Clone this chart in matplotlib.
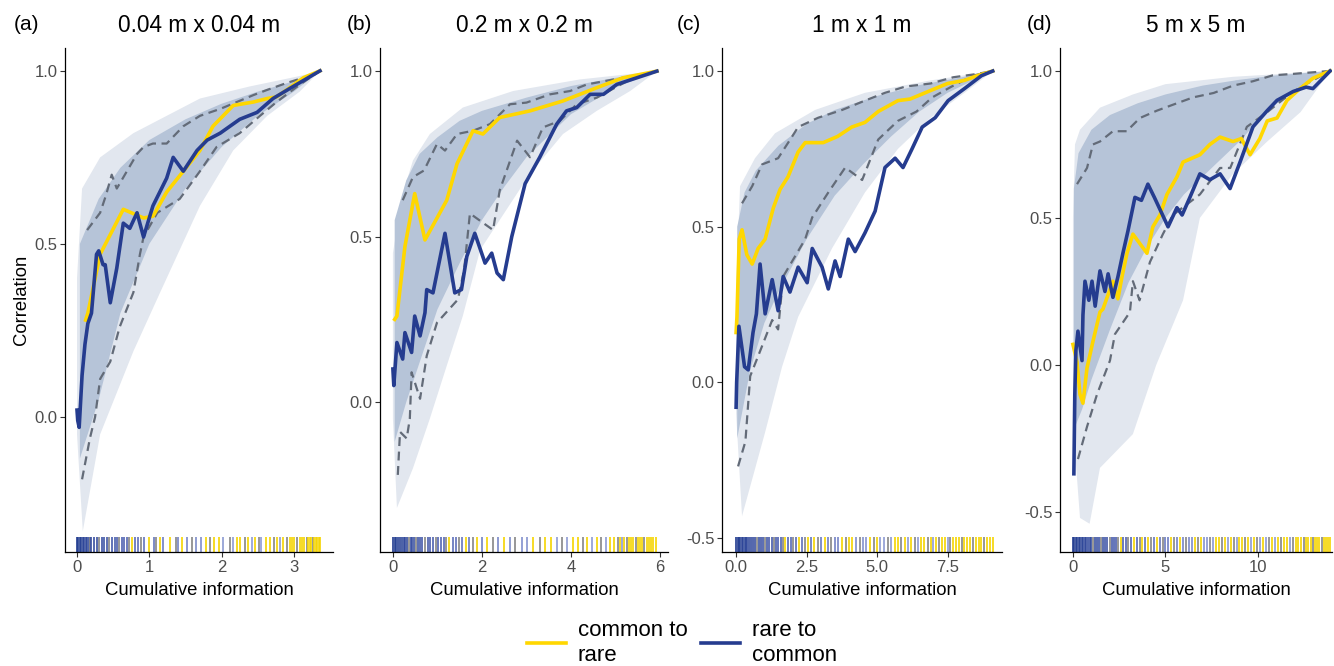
import numpy as np
import matplotlib
matplotlib.use('Agg')
import matplotlib.pyplot as plt
from matplotlib.colors import LinearSegmentedColormap
from matplotlib.lines import Line2D

plt.rcParams['font.family'] = ['Liberation Sans', 'DejaVu Sans']

# --- values ---

titles = ['0.04 m x 0.04 m', '0.2 m x 0.2 m', '1 m x 1 m', '5 m x 5 m']
tags = ['(a)', '(b)', '(c)', '(d)']

# (a)
a_common_x = [0.12, 0.15, 0.32, 0.64, 0.92, 1.05, 1.24, 1.47, 1.70, 1.88, 2.16, 2.44, 2.63, 2.76, 2.90, 3.13, 3.36]
a_common_y = [0.28, 0.30, 0.47, 0.60, 0.575, 0.58, 0.65, 0.71, 0.77, 0.84, 0.90, 0.91, 0.92, 0.925, 0.945, 0.98, 1.0]
a_rare_x = [0.0, 0.01, 0.03, 0.07, 0.11, 0.15, 0.20, 0.27, 0.30, 0.36, 0.39, 0.46, 0.55, 0.64, 0.73, 0.83, 0.92,
            1.05, 1.24, 1.33, 1.47, 1.66, 1.80, 1.98, 2.25, 2.49, 2.71, 2.95, 3.36]
a_rare_y = [0.02, -0.01, -0.03, 0.12, 0.21, 0.27, 0.30, 0.47, 0.48, 0.44, 0.44, 0.33, 0.43, 0.56, 0.545, 0.59, 0.52,
            0.61, 0.69, 0.75, 0.71, 0.77, 0.80, 0.82, 0.86, 0.88, 0.92, 0.95, 1.0]
a_qhi_x = [0.14, 0.32, 0.40, 0.48, 0.55, 0.83, 0.92, 1.05, 1.24, 1.47, 1.70, 1.98, 2.21, 2.44, 2.63, 2.90, 3.13, 3.36]
a_qhi_y = [0.54, 0.59, 0.64, 0.70, 0.66, 0.76, 0.78, 0.79, 0.79, 0.84, 0.87, 0.89, 0.91, 0.93, 0.945, 0.965, 0.98, 1.0]
a_qlo_x = [0.07, 0.18, 0.25, 0.32, 0.46, 0.59, 0.78, 0.87, 0.92, 1.11, 1.42, 1.70, 1.93, 2.25, 2.53, 2.76, 3.08, 3.36]
a_qlo_y = [-0.18, -0.06, 0.0, 0.11, 0.16, 0.26, 0.36, 0.47, 0.52, 0.59, 0.63, 0.71, 0.78, 0.82, 0.87, 0.91, 0.96, 1.0]
a_core_hi_x = [0.04, 0.3, 0.6, 1.0, 1.5, 2.0, 2.5, 3.0, 3.36]
a_core_hi_y = [0.50, 0.63, 0.72, 0.80, 0.86, 0.905, 0.94, 0.97, 1.0]
a_core_lo_x = [0.04, 0.3, 0.6, 1.0, 1.5, 2.0, 2.5, 3.0, 3.36]
a_core_lo_y = [-0.12, 0.05, 0.30, 0.50, 0.66, 0.78, 0.87, 0.94, 1.0]
a_env_hi_x = [0.0, 0.07, 0.32, 0.78, 1.24, 1.70, 2.39, 3.08, 3.36]
a_env_hi_y = [0.40, 0.66, 0.75, 0.82, 0.87, 0.92, 0.955, 0.985, 1.0]
a_env_lo_x = [0.0, 0.08, 0.32, 0.78, 1.15, 1.70, 2.16, 2.63, 3.08, 3.36]
a_env_lo_y = [-0.05, -0.33, -0.05, 0.19, 0.36, 0.61, 0.77, 0.87, 0.94, 1.0]
a_rug = [0.0, 0.02, 0.04, 0.06, 0.08, 0.10, 0.12, 0.14, 0.16, 0.18,
         0.20, 0.235, 0.27, 0.31, 0.34, 0.37, 0.41, 0.44, 0.48, 0.52, 0.55, 0.585, 0.62, 0.65, 0.69, 0.72,
         0.76, 0.80, 0.85, 0.88, 0.92, 0.99, 1.06, 1.09, 1.15, 1.19, 1.29, 1.37, 1.40, 1.45, 1.52, 1.59,
         1.65, 1.71, 1.79, 1.84, 1.90, 1.96, 2.02, 2.11, 2.16, 2.21, 2.26, 2.32, 2.37, 2.42, 2.46, 2.51,
         2.55, 2.62, 2.67, 2.72, 2.76, 2.81, 2.85, 2.90, 2.94, 2.97, 3.00, 3.04, 3.08, 3.11, 3.14, 3.18,
         3.20, 3.22, 3.24, 3.26, 3.28, 3.30, 3.32, 3.34, 3.36]

# (b)
b_common_x = [0.04, 0.09, 0.27, 0.49, 0.72, 1.21, 1.44, 1.80, 2.02, 2.40, 3.08, 3.82, 4.58, 5.17, 5.93]
b_common_y = [0.25, 0.26, 0.47, 0.63, 0.49, 0.61, 0.72, 0.82, 0.81, 0.86, 0.88, 0.91, 0.95, 0.98, 1.0]
b_rare_x = [0.0, 0.02, 0.09, 0.22, 0.27, 0.42, 0.49, 0.61, 0.72, 0.76, 0.90, 1.17, 1.39, 1.54, 1.66, 1.84,
            2.07, 2.22, 2.34, 2.48, 2.67, 2.97, 3.30, 3.68, 3.90, 4.13, 4.43, 4.73, 5.03, 5.48, 5.93]
b_rare_y = [0.10, 0.05, 0.18, 0.13, 0.21, 0.15, 0.26, 0.20, 0.27, 0.34, 0.33, 0.51, 0.33, 0.34, 0.44, 0.51,
            0.42, 0.45, 0.39, 0.37, 0.50, 0.66, 0.74, 0.84, 0.88, 0.89, 0.93, 0.93, 0.96, 0.98, 1.0]
b_qhi_x = [0.22, 0.45, 0.70, 0.99, 1.17, 1.44, 1.80, 2.18, 2.63, 3.0, 3.53, 3.98, 4.36, 4.96, 5.56, 5.93]
b_qhi_y = [0.61, 0.68, 0.70, 0.78, 0.76, 0.81, 0.82, 0.84, 0.90, 0.905, 0.93, 0.94, 0.96, 0.975, 0.99, 1.0]
b_qlo_x = [0.11, 0.16, 0.31, 0.38, 0.42, 0.61, 0.76, 0.99, 1.46, 1.60, 1.73, 2.25, 2.40, 2.79, 3.08, 3.37,
           3.75, 4.13, 4.58, 5.33, 5.93]
b_qlo_y = [-0.22, -0.09, -0.11, -0.05, 0.09, 0.01, 0.14, 0.24, 0.31, 0.40, 0.57, 0.52, 0.64, 0.79, 0.74, 0.83,
           0.85, 0.90, 0.92, 0.975, 1.0]
b_core_hi_x = [0.04, 0.3, 0.6, 1.0, 1.5, 2.0, 3.0, 4.0, 5.0, 5.93]
b_core_hi_y = [0.55, 0.67, 0.75, 0.80, 0.85, 0.88, 0.92, 0.955, 0.98, 1.0]
b_core_lo_x = [0.04, 0.3, 0.6, 1.0, 1.5, 2.0, 2.5, 3.0, 4.0, 5.0, 5.93]
b_core_lo_y = [-0.12, 0.0, 0.12, 0.28, 0.42, 0.55, 0.65, 0.74, 0.87, 0.95, 1.0]
b_env_hi_x = [0.0, 0.2, 0.45, 0.83, 1.57, 2.7, 4.2, 5.93]
b_env_hi_y = [0.45, 0.62, 0.73, 0.81, 0.89, 0.94, 0.975, 1.0]
b_env_lo_x = [0.0, 0.09, 0.45, 0.83, 1.21, 1.57, 1.96, 3.08, 3.82, 4.58, 5.33, 5.93]
b_env_lo_y = [-0.05, -0.32, -0.2, -0.05, 0.11, 0.26, 0.46, 0.69, 0.81, 0.88, 0.94, 1.0]
b_rug = [0.0, 0.04, 0.08, 0.12, 0.16, 0.20, 0.24, 0.28, 0.32, 0.36, 0.40, 0.44, 0.48, 0.52, 0.56,
         0.60, 0.66, 0.72, 0.78, 0.84, 0.90, 0.96, 1.02, 1.08, 1.14, 1.20, 1.27, 1.34, 1.41, 1.48, 1.56,
         1.64, 1.72, 1.80, 1.90, 2.00, 2.12, 2.24, 2.36, 2.50, 2.62, 2.75, 2.90, 3.02, 3.15, 3.30, 3.42,
         3.55, 3.68, 3.80, 3.92, 4.04, 4.15, 4.26, 4.37, 4.48, 4.58, 4.68, 4.78, 4.88, 4.97,
         5.05, 5.10, 5.15, 5.20, 5.25, 5.30, 5.35, 5.40, 5.45, 5.50, 5.55, 5.60, 5.65, 5.70, 5.75, 5.80,
         5.85, 5.90]

# (c)
c_common_x = [0.0, 0.03, 0.11, 0.21, 0.38, 0.57, 0.78, 1.03, 1.32, 1.56, 1.84, 2.2, 2.45, 3.09, 3.6, 4.1,
              4.57, 5.04, 5.74, 6.17, 6.7, 7.5, 8.1, 8.55, 9.1]
c_common_y = [0.16, 0.21, 0.46, 0.49, 0.41, 0.38, 0.43, 0.46, 0.56, 0.62, 0.66, 0.74, 0.77, 0.77, 0.79, 0.82,
              0.835, 0.87, 0.905, 0.91, 0.93, 0.96, 0.97, 0.985, 1.0]
c_rare_x = [0.0, 0.02, 0.1, 0.3, 0.43, 0.6, 0.72, 0.85, 1.03, 1.28, 1.49, 1.67, 1.91, 2.2, 2.52, 2.7, 3.05,
            3.27, 3.51, 3.69, 3.98, 4.22, 4.57, 4.93, 5.28, 5.64, 5.92, 6.24, 6.6, 7.06, 7.52, 8.12, 8.7, 9.1]
c_rare_y = [-0.08, 0.0, 0.18, 0.05, 0.04, 0.16, 0.22, 0.38, 0.22, 0.33, 0.23, 0.34, 0.29, 0.37, 0.32, 0.43,
            0.37, 0.30, 0.39, 0.34, 0.46, 0.42, 0.48, 0.55, 0.69, 0.72, 0.69, 0.75, 0.82, 0.85, 0.905, 0.945,
            0.985, 1.0]
c_qhi_x = [0.21, 0.57, 0.92, 1.49, 1.99, 2.2, 2.91, 3.76, 4.57, 5.28, 6.0, 6.9, 7.7, 8.5, 9.1]
c_qhi_y = [0.575, 0.63, 0.70, 0.72, 0.79, 0.82, 0.85, 0.875, 0.905, 0.93, 0.95, 0.96, 0.98, 0.99, 1.0]
c_qlo_x = [0.07, 0.33, 0.5, 0.85, 1.28, 1.49, 1.67, 2.45, 2.7, 3.27, 3.87, 4.47, 5.04, 5.74, 6.4, 6.95,
           7.64, 8.4, 9.1]
c_qlo_y = [-0.27, -0.19, 0.02, 0.10, 0.20, 0.17, 0.34, 0.46, 0.53, 0.61, 0.69, 0.65, 0.78, 0.84, 0.87,
           0.915, 0.95, 0.985, 1.0]
c_core_hi_x = [0.04, 0.3, 0.7, 1.5, 2.5, 3.5, 5.0, 6.5, 8.0, 9.1]
c_core_hi_y = [0.50, 0.61, 0.68, 0.76, 0.83, 0.875, 0.92, 0.955, 0.98, 1.0]
c_core_lo_x = [0.04, 0.5, 1.0, 1.5, 2.5, 3.5, 4.5, 5.5, 6.5, 7.5, 9.1]
c_core_lo_y = [-0.18, 0.04, 0.19, 0.29, 0.46, 0.60, 0.70, 0.79, 0.87, 0.93, 1.0]
c_env_hi_x = [0.0, 0.14, 0.67, 1.38, 2.8, 4.57, 6.9, 9.1]
c_env_hi_y = [0.3, 0.63, 0.72, 0.80, 0.875, 0.93, 0.97, 1.0]
c_env_lo_x = [0.0, 0.21, 1.03, 1.63, 2.2, 2.8, 3.4, 4.57, 5.74, 6.9, 8.1, 9.1]
c_env_lo_y = [-0.1, -0.43, -0.16, 0.05, 0.21, 0.32, 0.43, 0.61, 0.75, 0.85, 0.93, 1.0]
c_rug = [0.00, 0.05, 0.10, 0.15, 0.20, 0.25, 0.30, 0.35, 0.40, 0.46, 0.53, 0.60, 0.66, 0.73, 0.80, 0.87,
         0.95, 1.02, 1.10, 1.18, 1.26, 1.33, 1.41, 1.50, 1.58, 1.66, 1.75, 1.84, 1.93, 2.02, 2.12, 2.22,
         2.33, 2.44, 2.55, 2.66, 2.78, 2.90, 3.02, 3.14, 3.26, 3.38, 3.50, 3.62, 3.75, 3.88, 4.00, 4.12,
         4.25, 4.38, 4.50, 4.62, 4.75, 4.88, 5.00, 5.12, 5.25, 5.38, 5.50, 5.62, 5.74, 5.86, 5.98, 6.10,
         6.22, 6.34, 6.45, 6.56, 6.68, 6.80, 6.90, 7.00, 7.10, 7.20, 7.30, 7.40, 7.50, 7.60, 7.70, 7.80,
         7.90, 8.00, 8.10, 8.20, 8.30, 8.40, 8.50, 8.60, 8.70, 8.80, 8.90, 9.00, 9.10]

# (d)
d_common_x = [0.0, 0.22, 0.38, 0.54, 0.76, 1.08, 1.46, 1.62, 2.16, 2.43, 2.65, 2.92, 3.24, 4.0, 4.32, 4.7,
              5.08, 5.62, 5.95, 6.86, 7.4, 7.95, 8.65, 9.1, 9.57, 10.1, 10.5, 11.03, 11.57, 12.27, 12.97, 13.9]
d_common_y = [0.07, 0.01, -0.10, -0.13, -0.01, 0.08, 0.18, 0.19, 0.285, 0.225, 0.30, 0.38, 0.445, 0.38, 0.47,
              0.51, 0.58, 0.64, 0.69, 0.715, 0.75, 0.775, 0.76, 0.77, 0.715, 0.77, 0.83, 0.84, 0.90, 0.94,
              0.975, 1.0]
d_rare_x = [0.05, 0.10, 0.16, 0.27, 0.49, 0.54, 0.65, 0.86, 1.03, 1.2, 1.46, 1.73, 1.9, 2.16, 2.43, 2.7,
            2.97, 3.35, 3.7, 4.05, 4.4, 5.14, 5.62, 5.9, 6.32, 6.86, 7.4, 7.95, 8.49, 9.03, 9.73, 10.5,
            11.03, 11.9, 12.6, 12.97, 13.9]
d_rare_y = [-0.37, -0.10, 0.05, 0.115, 0.015, 0.17, 0.285, 0.22, 0.285, 0.20, 0.32, 0.25, 0.31, 0.23, 0.30,
            0.38, 0.455, 0.57, 0.56, 0.615, 0.57, 0.47, 0.535, 0.51, 0.57, 0.65, 0.63, 0.65, 0.60, 0.69,
            0.81, 0.865, 0.90, 0.93, 0.945, 0.94, 1.0]
d_qhi_x = [0.22, 0.76, 1.08, 1.46, 2.16, 2.9, 3.62, 4.54, 5.4, 6.49, 7.6, 8.65, 9.73, 10.8, 11.9, 13.9]
d_qhi_y = [0.615, 0.67, 0.75, 0.76, 0.795, 0.795, 0.84, 0.865, 0.885, 0.91, 0.925, 0.95, 0.965, 0.985,
           0.99, 1.0]
d_qlo_x = [0.27, 0.76, 1.3, 2.0, 2.27, 2.65, 3.08, 3.24, 3.6, 4.16, 4.86, 5.4, 6.86, 7.95, 8.5, 9.4, 10.5,
           11.4, 12.3, 13.9]
d_qlo_y = [-0.32, -0.21, -0.10, 0.015, 0.105, 0.14, 0.18, 0.285, 0.22, 0.35, 0.445, 0.51, 0.58, 0.67, 0.67,
           0.81, 0.86, 0.905, 0.945, 1.0]
d_core_hi_x = [0.05, 0.3, 1.0, 2.0, 3.5, 5.0, 7.0, 9.0, 11.0, 13.9]
d_core_hi_y = [0.60, 0.72, 0.80, 0.85, 0.89, 0.92, 0.95, 0.97, 0.985, 1.0]
d_core_lo_x = [0.05, 0.5, 1.0, 2.0, 3.0, 4.0, 5.0, 6.0, 7.0, 8.0, 9.0, 10.0, 11.0, 12.0, 13.0, 13.9]
d_core_lo_y = [-0.22, -0.15, -0.05, 0.12, 0.28, 0.40, 0.50, 0.58, 0.64, 0.70, 0.76, 0.83, 0.89, 0.93, 0.97, 1.0]
d_env_hi_x = [0.0, 0.11, 0.38, 1.46, 3.24, 5.0, 8.65, 13.9]
d_env_hi_y = [0.5, 0.75, 0.80, 0.875, 0.92, 0.955, 0.98, 1.0]
d_env_lo_x = [0.0, 0.38, 0.9, 1.46, 3.24, 4.5, 5.95, 6.86, 8.65, 10.5, 12.3, 13.9]
d_env_lo_y = [-0.2, -0.52, -0.54, -0.35, -0.235, 0.0, 0.22, 0.5, 0.65, 0.76, 0.86, 1.0]
d_rug = [0.0, 0.08, 0.16, 0.24, 0.32, 0.40, 0.48, 0.56, 0.64, 0.72, 0.80, 0.90, 1.00, 1.10, 1.20, 1.30,
         1.40, 1.50, 1.62, 1.74, 1.86, 1.98, 2.10, 2.22, 2.34, 2.46, 2.58, 2.72, 2.86, 3.00, 3.15, 3.30,
         3.45, 3.60, 3.75, 3.90, 4.05, 4.20, 4.36, 4.52, 4.68, 4.84, 5.00, 5.16, 5.32, 5.48, 5.64, 5.80,
         5.96, 6.12, 6.28, 6.44, 6.60, 6.76, 6.92, 7.08, 7.24, 7.40, 7.56, 7.72, 7.88, 8.04, 8.20, 8.36,
         8.52, 8.68, 8.84, 9.00, 9.16, 9.32, 9.48, 9.64, 9.80, 9.96, 10.12, 10.28, 10.44, 10.60, 10.76,
         10.92, 11.08, 11.24, 11.40, 11.56, 11.72, 11.88, 12.04, 12.18, 12.32, 12.46, 12.60, 12.72, 12.84,
         12.96, 13.08, 13.20, 13.32, 13.44, 13.56, 13.68, 13.80, 13.90]

xticks = [[0, 1, 2, 3], [0, 2, 4, 6], [0, 2.5, 5, 7.5], [0, 5, 10]]
xticklabels = [['0', '1', '2', '3'], ['0', '2', '4', '6'], ['0.0', '2.5', '5.0', '7.5'], ['0', '5', '10']]
yticks = [[0.0, 0.5, 1.0], [0.0, 0.5, 1.0], [-0.5, 0.0, 0.5, 1.0], [-0.5, 0.0, 0.5, 1.0]]
yticklabels = [['0.0', '0.5', '1.0'], ['0.0', '0.5', '1.0'], ['-0.5', '0.0', '0.5', '1.0'],
               ['-0.5', '0.0', '0.5', '1.0']]

# --- layout / style ---

W, H = 1334, 666
YELLOW = '#FFD700'
BLUE = '#253C8F'
DASH = '#636b78'
CLOUD_OUT = '#e2e7ef'
CLOUD_IN = '#b6c4d8'
TICK_GREY = '#4d4d4d'

# axes boxes in pixels: left, right; shared top/bottom
boxes = [(65, 333), (380, 668), (722, 1002), (1060, 1332)]
top_px, bot_px = 48, 552
xlims = [(-0.166, 3.54), (-0.29, 6.18), (-0.50, 9.43), (-0.70, 14.0)]
ylims = [(-0.39, 1.066), (-0.453, 1.07), (-0.545, 1.074), (-0.636, 1.078)]

panels = [
    dict(common=(a_common_x, a_common_y), rare=(a_rare_x, a_rare_y), qhi=(a_qhi_x, a_qhi_y),
         qlo=(a_qlo_x, a_qlo_y), core_hi=(a_core_hi_x, a_core_hi_y), core_lo=(a_core_lo_x, a_core_lo_y),
         env_hi=(a_env_hi_x, a_env_hi_y), env_lo=(a_env_lo_x, a_env_lo_y), rug=a_rug),
    dict(common=(b_common_x, b_common_y), rare=(b_rare_x, b_rare_y), qhi=(b_qhi_x, b_qhi_y),
         qlo=(b_qlo_x, b_qlo_y), core_hi=(b_core_hi_x, b_core_hi_y), core_lo=(b_core_lo_x, b_core_lo_y),
         env_hi=(b_env_hi_x, b_env_hi_y), env_lo=(b_env_lo_x, b_env_lo_y), rug=b_rug),
    dict(common=(c_common_x, c_common_y), rare=(c_rare_x, c_rare_y), qhi=(c_qhi_x, c_qhi_y),
         qlo=(c_qlo_x, c_qlo_y), core_hi=(c_core_hi_x, c_core_hi_y), core_lo=(c_core_lo_x, c_core_lo_y),
         env_hi=(c_env_hi_x, c_env_hi_y), env_lo=(c_env_lo_x, c_env_lo_y), rug=c_rug),
    dict(common=(d_common_x, d_common_y), rare=(d_rare_x, d_rare_y), qhi=(d_qhi_x, d_qhi_y),
         qlo=(d_qlo_x, d_qlo_y), core_hi=(d_core_hi_x, d_core_hi_y), core_lo=(d_core_lo_x, d_core_lo_y),
         env_hi=(d_env_hi_x, d_env_hi_y), env_lo=(d_env_lo_x, d_env_lo_y), rug=d_rug),
]

# rug ticks: blue shades for the rare end, yellow for the common end, grey mixed in
rug_blues = LinearSegmentedColormap.from_list('rugblue', ['#1f3a8f', '#5567b5', '#8e9bd3'])
RUG_YELLOW = '#f5d400'
RUG_GREY = '#858585'


def rug_colors(n):
    frac = np.linspace(0, 1, n)
    cols = []
    for k, f in enumerate(frac):
        mix = (k * 0.618034) % 1.0
        if 0.1 < f < 0.985 and k % 4 == 1:
            cols.append(RUG_GREY)
        elif f > 0.92 or (f > 0.2 and mix < (f - 0.15) * 1.25):
            cols.append(RUG_YELLOW)
        else:
            cols.append(rug_blues(min(f / 0.6, 1.0)))
    return cols


def band(ax, hi, lo, color, z):
    xs = np.r_[hi[0], lo[0][::-1]]
    ys = np.r_[hi[1], lo[1][::-1]]
    ax.fill(xs, ys, color=color, lw=0, zorder=z)


fig = plt.figure(figsize=(W / 100, H / 100), dpi=100)

for i, p in enumerate(panels):
    left, right = boxes[i]
    ax = fig.add_axes([left / W, 1 - bot_px / H, (right - left) / W, (bot_px - top_px) / H])

    # cloud of random orderings: faint outer envelope + dense core
    band(ax, p['env_hi'], p['env_lo'], CLOUD_OUT, 1)
    band(ax, p['core_hi'], p['core_lo'], CLOUD_IN, 1.5)

    for key in ('qhi', 'qlo'):
        ax.plot(*p[key], color=DASH, lw=1.6, dashes=(4, 2.5), zorder=3)
    ax.plot(*p['common'], color=YELLOW, lw=2.6, zorder=4, solid_joinstyle='round')
    ax.plot(*p['rare'], color=BLUE, lw=2.6, zorder=5, solid_joinstyle='round')

    rug = np.asarray(p['rug'])
    ax.vlines(rug, 0, 0.03, transform=ax.get_xaxis_transform(), colors=rug_colors(len(rug)),
              lw=1.2, zorder=2)

    ax.set_xlim(*xlims[i])
    ax.set_ylim(*ylims[i])
    ax.set_xticks(xticks[i])
    ax.set_xticklabels(xticklabels[i])
    ax.set_yticks(yticks[i])
    ax.set_yticklabels(yticklabels[i])
    ax.tick_params(labelsize=12, labelcolor=TICK_GREY, color='#333333', length=3.5, width=0.8, pad=2)
    for s in ('top', 'right'):
        ax.spines[s].set_visible(False)
    for s in ('left', 'bottom'):
        ax.spines[s].set_linewidth(0.9)
    ax.set_xlabel('Cumulative information', fontsize=13.3, labelpad=5)
    if i == 0:
        ax.set_ylabel('Correlation', fontsize=13.3, labelpad=3)

    fig.text((left + right) / 2 / W, 1 - 25 / H, titles[i], fontsize=16.3, ha='center', va='center')

for x_px, tag in zip([27, 359, 689, 1039], tags):
    fig.text(x_px / W, 1 - 24 / H, tag, fontsize=15, ha='center', va='center')

handles = [Line2D([], [], color=YELLOW, lw=2.6), Line2D([], [], color=BLUE, lw=2.6)]
fig.legend(handles, ['common to\nrare', 'rare to\ncommon'], loc='center', bbox_to_anchor=(682 / W, 1 - 643 / H),
           ncol=2, frameon=False, fontsize=16, handlelength=1.75, columnspacing=0.6, handletextpad=0.55,
           labelspacing=0.1)

fig.savefig('out.png', dpi=100)
